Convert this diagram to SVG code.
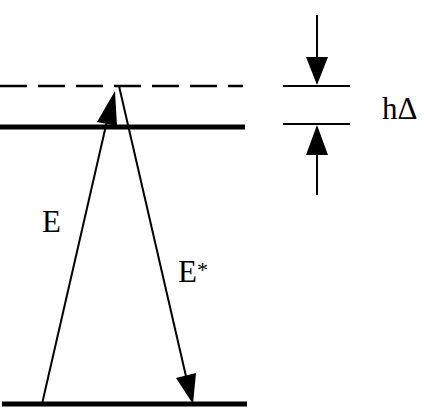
<svg xmlns="http://www.w3.org/2000/svg" width="424" height="420" viewBox="0 0 424 420">
<style>
.lvl{stroke:#000;stroke-width:5;fill:none}
.dash{stroke:#000;stroke-width:2.5;stroke-dasharray:27 11;fill:none}
.ray{stroke:#000;stroke-width:2;fill:none}
.thin{stroke:#000;stroke-width:2;fill:none}
.head{fill:#000;stroke:none}
text{font-family:"Liberation Serif","Times New Roman",serif;font-size:31px;fill:#000}
</style>
<rect width="424" height="420" fill="#fff"/>
<g id="levels">
<line id="virtual" class="dash" x1="0" y1="86" x2="243" y2="86"/>
<line id="excited" class="lvl" x1="0" y1="127" x2="245" y2="127"/>
<line id="ground" class="lvl" x1="2" y1="404" x2="247" y2="404"/>
</g>
<g id="connectors">
<line class="ray" x1="42" y1="404" x2="110" y2="108"/>
<polygon class="head" points="115,91 97,122 117,126"/>
<line class="ray" x1="119" y1="86" x2="188" y2="385"/>
<polygon class="head" points="193,404 176,378 196,373"/>
<line class="thin" x1="317" y1="15" x2="317" y2="60"/>
<polygon class="head" points="317,85 306,57 328,57"/>
<line class="thin" x1="283" y1="86" x2="350" y2="86"/>
<line class="thin" x1="283" y1="124" x2="350" y2="124"/>
<polygon class="head" points="317,125 306,155 328,155"/>
<line class="thin" x1="317" y1="150" x2="317" y2="195"/>
</g>
<g id="labels">
<text x="42" y="232">E</text>
<text x="178" y="282">E<tspan font-size="22" dy="-5">*</tspan></text>
<text x="382" y="119">hΔ</text>
</g>
</svg>
